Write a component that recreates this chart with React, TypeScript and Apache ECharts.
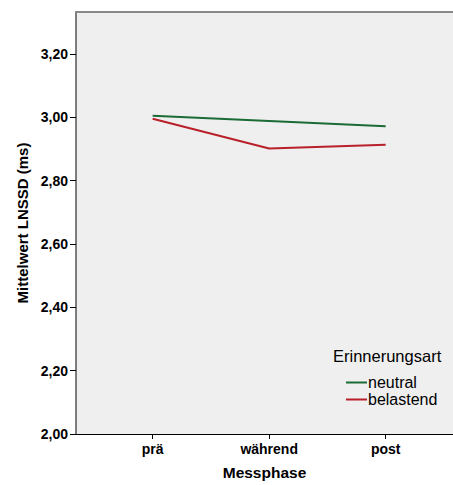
import React, { useEffect, useRef } from "react";
import * as echarts from "echarts";

const categories = ["prä", "während", "post"];
const neutral = [3.005, 2.989, 2.972];
const belastend = [2.996, 2.902, 2.914];
const yTicks = [2.0, 2.2, 2.4, 2.6, 2.8, 3.0, 3.2];
const seriesNames = ["neutral", "belastend"];
const legendTitle = "Erinnerungsart";

const FONT = "'Liberation Sans', Arial, sans-serif";

export default function App() {
  const ref = useRef<HTMLDivElement>(null);
  useEffect(() => {
    if (!ref.current) return;
    const chart = echarts.init(ref.current, null, { renderer: "svg" });
    const xIdx = categories.map((_, i) => i);
    chart.setOption({
      animation: false,
      backgroundColor: "#ffffff",
      grid: {
        left: 76,
        right: 0,
        top: 12,
        bottom: 49,
        show: true,
        backgroundColor: "#efefef",
        borderWidth: 0,
      },
      legend: {
        orient: "vertical",
        left: 341,
        top: 369,
        itemGap: 0,
        itemWidth: 21,
        itemHeight: 2,
        icon: "rect",
        data: seriesNames,
        textStyle: { fontFamily: FONT, fontSize: 16, color: "#000", padding: [0, 0, 0, -4], lineHeight: 17 },
      },
      graphic: [
        {
          type: "text",
          left: 333,
          top: 347,
          style: { text: legendTitle, font: `16.5px ${FONT}`, fill: "#000" },
        },
      ],
      xAxis: [
        {
          type: "value",
          min: -0.658,
          max: 2.578,
          name: "Messphase",
          nameLocation: "middle",
          nameGap: 30,
          nameTextStyle: { fontFamily: FONT, fontSize: 15.5, fontWeight: "bold", color: "#000" },
          axisLine: { show: true, onZero: false, lineStyle: { color: "#000", width: 1 } },
          axisTick: { show: true, length: 5, customValues: xIdx, lineStyle: { color: "#000" } },
          axisLabel: {
            customValues: xIdx,
            margin: 8,
            formatter: (v: number) => categories[Math.round(v)] ?? "",
            fontFamily: FONT,
            fontSize: 14,
            fontWeight: "bold",
            color: "#000",
          },
          splitLine: { show: false },
        },
        {
          type: "value",
          position: "top",
          min: -0.658,
          max: 2.578,
          axisLine: { show: true, onZero: false, lineStyle: { color: "#888", width: 2 } },
          axisTick: { show: false },
          axisLabel: { show: false },
          splitLine: { show: false },
        },
      ],
      yAxis: {
        type: "value",
        min: 2.0,
        max: 3.333,
        name: "Mittelwert LNSSD (ms)",
        nameLocation: "middle",
        nameGap: 46,
        nameTextStyle: { fontFamily: FONT, fontSize: 15, fontWeight: "bold", color: "#000" },
        axisLine: { show: true, onZero: false, lineStyle: { color: "#555", width: 1.5 } },
        axisTick: { show: true, length: 6, customValues: yTicks, lineStyle: { color: "#000" } },
        axisLabel: {
          customValues: yTicks,
          margin: 8,
          formatter: (v: number) => v.toFixed(2).replace(".", ","),
          fontFamily: FONT,
          fontSize: 14,
          fontWeight: "bold",
          color: "#000",
        },
        splitLine: { show: false },
      },
      series: [
        {
          name: seriesNames[0],
          type: "line",
          data: neutral.map((v, i) => [i, v]),
          symbol: "none",
          lineStyle: { color: "#1b6b35", width: 2 },
          itemStyle: { color: "#1b6b35" },
        },
        {
          name: seriesNames[1],
          type: "line",
          data: belastend.map((v, i) => [i, v]),
          symbol: "none",
          lineStyle: { color: "#b8202a", width: 2 },
          itemStyle: { color: "#b8202a" },
        },
      ],
    });
    return () => chart.dispose();
  }, []);
  return <div ref={ref} style={{ width: 453, height: 485, position: "absolute", left: 0, top: 0 }} />;
}
